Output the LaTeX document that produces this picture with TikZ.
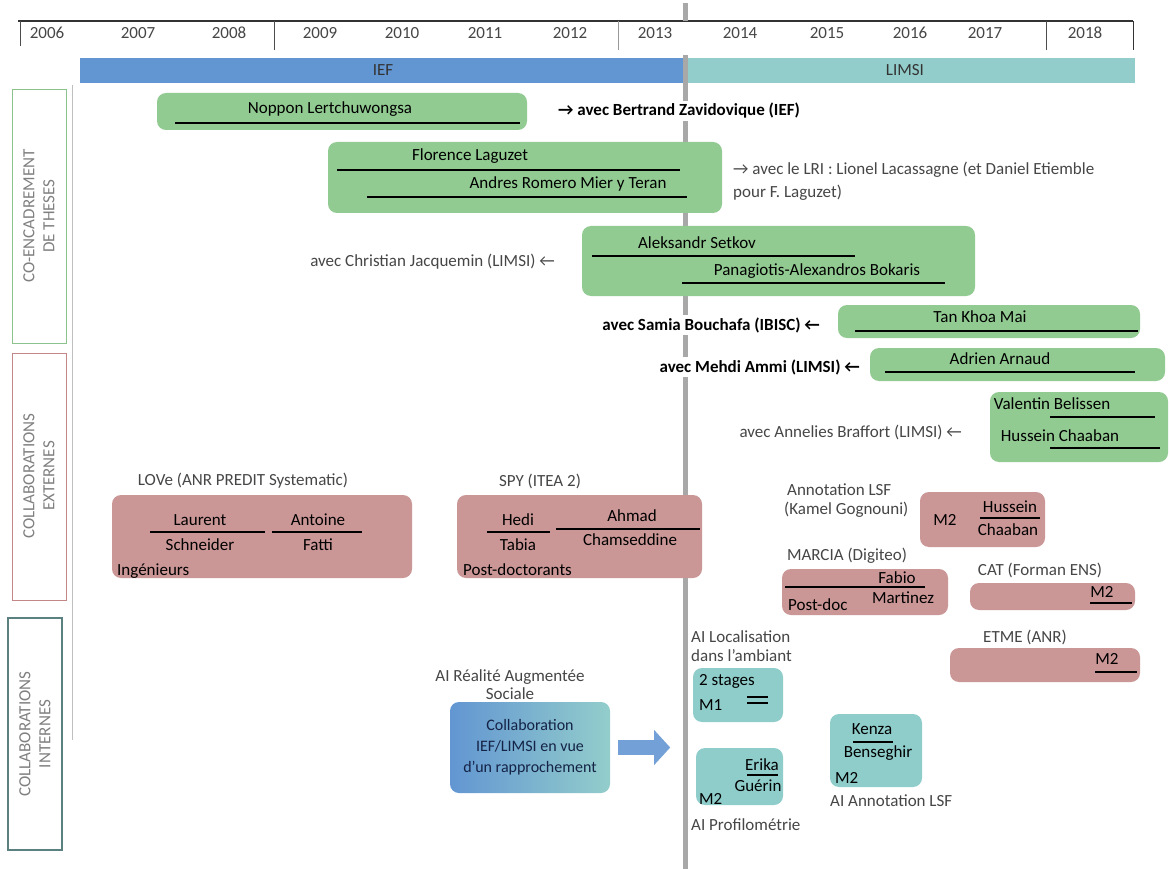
\documentclass[tikz,border=0pt]{standalone}
\usepackage{fontspec}
\setmainfont{Carlito}
\usetikzlibrary{arrows.meta}
\definecolor{gfill}{RGB}{146,203,146}
\definecolor{rfill}{RGB}{203,150,150}
\definecolor{tfill}{RGB}{143,205,203}
\definecolor{blueband}{RGB}{98,150,210}
\definecolor{tealband}{RGB}{147,205,203}
\definecolor{vline}{RGB}{168,168,168}
\definecolor{gborder}{RGB}{140,195,140}
\definecolor{rborder}{RGB}{195,135,135}
\definecolor{iborder}{RGB}{90,128,128}
\definecolor{labgray}{RGB}{70,70,70}
\begin{document}
\begin{tikzpicture}[x=1pt,y=-1pt,
  gbox/.style={fill=gfill,rounded corners=9pt,inner sep=0pt},
  rbox/.style={fill=rfill,rounded corners=9pt,inner sep=0pt},
  tbox/.style={fill=tfill,rounded corners=9pt,inner sep=0pt},
  nm/.style={font=\fontsize{17}{19}\selectfont,inner sep=1pt,text=black},
  side/.style={font=\fontsize{17}{23}\selectfont,inner sep=2pt,text=labgray,fill=white},
  sideb/.style={font=\fontsize{17}{23}\selectfont\bfseries,inner sep=2pt,text=black,fill=white},
  lab/.style={font=\fontsize{17}{20}\selectfont,inner sep=1pt,text=labgray},
  yr/.style={font=\fontsize{17}{19}\selectfont,text=labgray},
  catlab/.style={font=\fontsize{17}{20}\selectfont,text=gray,rotate=90,align=center},
  uline/.style={line width=2.2pt,black},
  arrowblk/.style={line width=15pt,draw=blueband!90,-{Triangle[width=34pt,length=16pt]}}
]
\useasboundingbox (0,0) rectangle (1170,869);
\fill[white] (0,0) rectangle (1170,869);

% header
\fill[white] (18,21) rectangle (1133,50);
\draw[line width=1.5pt,black!80] (18,21) -- (1133,21);
\draw[black!70] (20,21) -- (20,46);
\draw[black!70] (274,21) -- (274,50);
\draw[black!40] (618,21) -- (618,50);
\draw[black!70] (1046,21) -- (1046,50);
\draw[line width=1pt,black!80] (1133,21) -- (1133,50);
\foreach \x/\y in {47/2006,138/2007,229/2008,320/2009,402/2010,485/2011,570/2012,655/2013,740/2014,827/2015,910/2016,985/2017,1085/2018}
  \node[yr] (y\y) at (\x,33) {\y};

% bands
\fill[blueband] (80,58) rectangle (685,83);
\fill[tealband] (685,58) rectangle (1135,83);
\node[font=\fontsize{17}{19}\selectfont,text=black!80] (ief) at (383,70) {IEF};
\node[font=\fontsize{17}{19}\selectfont,text=black!80] (limsi) at (905,70) {LIMSI};

% main vertical line
\draw[vline,line width=5pt] (685,3) -- (685,21);
\draw[vline,line width=5pt] (685,55) -- (685,869);
\draw[gray!50] (72,85) -- (72,740);

% category boxes
\draw[gborder,line width=1pt] (12,90) rectangle (66,343);
\node[catlab] (cat1) at (39,216) {CO-ENCADREMENT\\DE THESES};
\draw[rborder,line width=1pt] (12,353) rectangle (66,600);
\node[catlab] (cat2) at (39,476) {COLLABORATIONS\\EXTERNES};
\draw[iborder,line width=1.2pt] (8,618) rectangle (62,850);
\node[catlab] (cat3) at (35,734) {COLLABORATIONS\\INTERNES};

% ===== green boxes (theses)
\node[gbox,minimum width=370,minimum height=37] (bNoppon) at (342,111.5) {};
\node[nm] (tNoppon) at (330,109) {Noppon Lertchuwongsa};
\draw[uline] (175,123) -- (520,123);
\node[sideb,anchor=west] (sBertrand) at (556,111) {→ avec Bertrand Zavidovique (IEF)};

\node[gbox,minimum width=394,minimum height=71] (bFlorence) at (525,177.5) {};
\node[nm] (tFlorence) at (470,156) {Florence Laguzet};
\draw[uline] (337,170) -- (680,170);
\node[nm] (tAndres) at (568,184) {Andres Romero Mier y Teran};
\draw[uline] (367,197) -- (687,197);
\node[side,anchor=west,align=left] (sLRI) at (731,181) {→ avec le LRI : Lionel Lacassagne (et Daniel Etiemble\\pour F. Laguzet)};

\node[gbox,minimum width=393,minimum height=70] (bAleks) at (778.5,261) {};
\node[nm] (tAleks) at (697,243) {Aleksandr Setkov};
\draw[uline] (592,256) -- (855,256);
\node[nm] (tPana) at (817,271) {Panagiotis-Alexandros Bokaris};
\draw[uline] (682,283) -- (945,283);
\node[side,anchor=east] (sChristian) at (557,262) {avec Christian Jacquemin (LIMSI) ←};

\node[gbox,minimum width=302,minimum height=33] (bTan) at (989,321.5) {};
\node[nm] (tTan) at (980,317) {Tan Khoa Mai};
\draw[uline] (855,331) -- (1138,331);
\node[sideb,anchor=east] (sSamia) at (822,325) {avec Samia Bouchafa (IBISC) ←};

\node[gbox,minimum width=295,minimum height=33] (bAdrien) at (1017.5,364.5) {};
\node[nm] (tAdrien) at (1000,359) {Adrien Arnaud};
\draw[uline] (885,372) -- (1135,372);
\node[sideb,anchor=east] (sMehdi) at (862,367) {avec Mehdi Ammi (LIMSI) ←};

\node[gbox,minimum width=178,minimum height=70] (bValentin) at (1079,427) {};
\node[nm] (tValentin) at (1052,404) {Valentin Belissen};
\draw[uline] (1050,417) -- (1155,417);
\node[nm] (tHussein) at (1060,436) {Hussein Chaaban};
\draw[uline] (1050,448) -- (1160,448);
\node[side,anchor=east] (sAnnelies) at (964,432) {avec Annelies Braffort (LIMSI) ←};

% ===== red boxes (external)
\node[lab] (lLove) at (243,481) {LOVe (ANR PREDIT Systematic)};
\node[rbox,minimum width=300,minimum height=83] (bLove) at (262,536.5) {};
\node[nm] (tLaurent) at (200,520) {Laurent};
\node[nm] (tSchneider) at (200,545) {Schneider};
\draw[uline] (150,532) -- (265,532);
\node[nm] (tAntoine) at (318,520) {Antoine};
\node[nm] (tFatt) at (318,545) {Fatti};
\draw[uline] (272,532) -- (362,532);
\node[nm,anchor=west] (tIng) at (116,571) {Ingénieurs};

\node[lab] (lSpy) at (540,481) {SPY (ITEA 2)};
\node[rbox,minimum width=245,minimum height=83] (bSpy) at (579.5,536.5) {};
\node[nm] (tHedi) at (518,520) {Hedi};
\node[nm] (tTabia) at (518,545) {Tabia};
\draw[uline] (487,532) -- (550,532);
\node[nm] (tAhmad) at (632,516) {Ahmad};
\node[nm] (tCham) at (630,540) {Chamseddine};
\draw[uline] (556,529) -- (700,529);
\node[nm,anchor=west] (tPostdocs) at (462,570) {Post-doctorants};

\node[lab,anchor=west] (lAnnot1) at (786,490) {Annotation LSF};
\node[lab,anchor=west] (lAnnot2) at (783,510) {(Kamel Gognouni)};
\node[rbox,minimum width=125,minimum height=55] (bHuss) at (982.5,519.5) {};
\node[nm] (tM2a) at (945,520) {M2};
\node[nm] (tHuss2) at (1010,507) {Hussein};
\node[nm] (tChaa2) at (1008,530) {Chaaban};
\draw[uline] (980,518) -- (1040,518);

\node[lab] (lMarcia) at (847,556) {MARCIA (Digiteo)};
\node[rbox,minimum width=166,minimum height=46] (bMarcia) at (865,592) {};
\node[nm] (tFabio) at (897,578) {Fabio};
\node[nm] (tMartinez) at (903,598) {Martinez};
\draw[uline] (785,587) -- (925,587);
\node[nm,anchor=west] (tPostdoc) at (787,605) {Post-doc};

\node[lab] (lCat) at (1040,570) {CAT (Forman ENS)};
\node[rbox,minimum width=165,minimum height=27] (bCat) at (1052.5,596.5) {};
\node[nm] (tM2b) at (1102,592) {M2};
\draw[uline] (1090,603) -- (1132,603);

\node[lab] (lEtme) at (1025,637) {ETME (ANR)};
\node[rbox,minimum width=190,minimum height=34] (bEtme) at (1045,665) {};
\node[nm] (tM2c) at (1107,659) {M2};
\draw[uline] (1095,672) -- (1137,672);

% ===== internal
\node[lab] (lAIRA1) at (510,677) {AI Réalité Augmentée};
\node[lab] (lAIRA2) at (510,694) {Sociale};
\node[rounded corners=9pt,left color=blueband,right color=tealband,minimum width=160,minimum height=91,inner sep=0pt] (bCollab) at (530,747.5) {};
\node[nm,align=center,font=\fontsize{16}{21}\selectfont,text={rgb,255:red,20;green,35;blue,70}] (tCollab) at (530,747) {Collaboration\\IEF/LIMSI en vue\\d'un rapprochement};
\draw[arrowblk] ([xshift=8pt]bCollab.east) -- ([xshift=60pt]bCollab.east);

\node[lab,anchor=west] (lLoc1) at (690,637) {AI Localisation};
\node[lab,anchor=west] (lLoc2) at (690,656) {dans l'ambiant};
\node[tbox,minimum width=90,minimum height=54] (bStages) at (738,695) {};
\node[nm,anchor=west] (tStages) at (698,681) {2 stages};
\node[nm,anchor=west] (tM1) at (698,705) {M1};
\draw[uline] (747,697) -- (768,697);
\draw[uline] (747,703) -- (768,703);

\node[tbox,minimum width=87,minimum height=57] (bErika) at (739.5,776.5) {};
\node[nm] (tErika) at (762,765) {Erika};
\draw[uline] (747,775) -- (778,775);
\node[nm] (tGuerin) at (758,786) {Guérin};
\node[nm,anchor=west] (tM2d) at (698,799) {M2};
\node[lab,anchor=west] (lProf) at (690,825) {AI Profilométrie};

\node[tbox,minimum width=92,minimum height=73] (bKenza) at (876,750.5) {};
\node[nm] (tKenza) at (872,729) {Kenza};
\draw[uline] (853,742) -- (893,742);
\node[nm] (tBens) at (878,753) {Benseghir};
\node[nm,anchor=west] (tM2e) at (834,778) {M2};
\node[lab,anchor=west] (lAnnLSF) at (829,801) {AI Annotation LSF};
\end{tikzpicture}
\end{document}
